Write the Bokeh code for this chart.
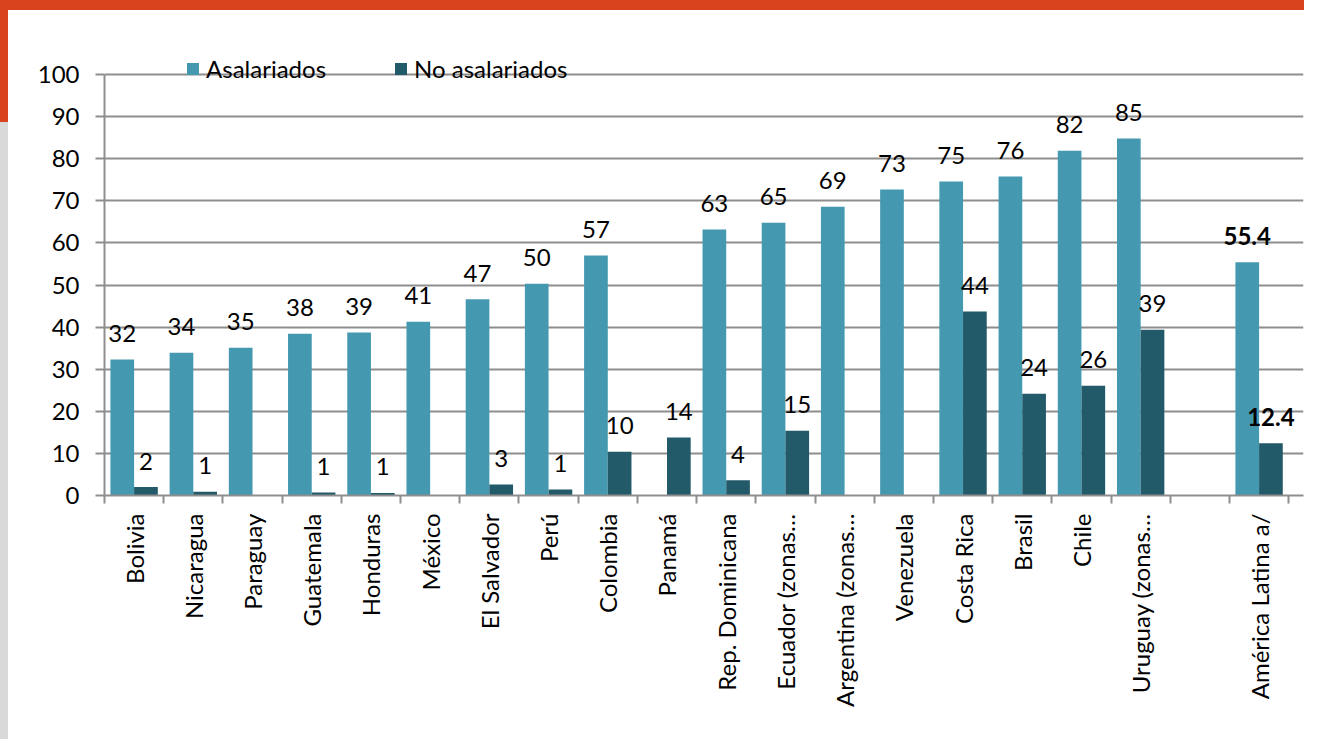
from bokeh.plotting import figure
from bokeh.models import (ColumnDataSource, Range1d, FixedTicker, Legend, LegendItem, Div)
from bokeh.layouts import column, row
from bokeh.core.properties import value
from bokeh.embed import file_html
from bokeh.resources import INLINE
import math

categories = ["Bolivia", "Nicaragua", "Paraguay", "Guatemala", "Honduras", "México",
              "El Salvador", "Perú", "Colombia", "Panamá", "Rep. Dominicana",
              "Ecuador (zonas…", "Argentina (zonas…", "Venezuela", "Costa Rica",
              "Brasil", "Chile", "Uruguay (zonas…", "", "América Latina a/"]
asalariados = [32.3, 33.9, 35.1, 38.4, 38.7, 41.3, 46.6, 50.3, 57.0, None, 63.2, 64.8,
               68.6, 72.7, 74.6, 75.8, 81.9, 84.8, None, 55.4]
no_asalariados = [2.0, 0.9, None, 0.7, 0.6, None, 2.6, 1.4, 10.4, 13.8, 3.6, 15.4,
                  None, None, 43.7, 24.2, 26.1, 39.4, None, 12.4]
aggregate = "América Latina a/"
y_ticks = [0, 10, 20, 30, 40, 50, 60, 70, 80, 90, 100]

C_AS = "#4499b0"
C_NO = "#225a69"
ORANGE = "#d9441f"
STRIP_GRAY = "#d9d9d9"
FONT = "Lato"
FS = "24px"
GRID = "#8e8e8e"

W, H = 1296, 729
n = len(categories)
p = figure(width=W, height=H, output_backend="svg", toolbar_location=None,
           x_range=Range1d(0, n + 0.25), y_range=Range1d(0, 105),
           min_border_left=96, min_border_top=43, min_border_bottom=244,
           min_border_right=1)
p.outline_line_color = None
p.background_fill_color = "white"
p.border_fill_color = "white"


def series(vals, shift):
    xs, tops, labels, xl, yl, xa, ya, la = [], [], [], [], [], [], [], []
    for i, (c, v) in enumerate(zip(categories, vals)):
        if v is None:
            continue
        x = i + 0.5 + shift
        xs.append(x)
        tops.append(v)
        if c == aggregate:
            xa.append(x); ya.append(v); la.append(f"{v:.1f}")
        else:
            xl.append(x); yl.append(v); labels.append(str(int(round(v))))
    return (ColumnDataSource(dict(x=xs, top=tops)),
            ColumnDataSource(dict(x=xl, y=yl, t=labels)),
            ColumnDataSource(dict(x=xa, y=ya, t=la)))


items = []
for vals, shift, color, name in [(asalariados, -0.2, C_AS, "Asalariados"),
                                  (no_asalariados, 0.2, C_NO, "No asalariados")]:
    bars, labs, aggl = series(vals, shift)
    r = p.vbar(x="x", top="top", bottom=0, width=0.4, source=bars,
               fill_color=color, line_color=None)
    items.append(LegendItem(label=name, renderers=[r]))
    p.text(x="x", y="y", text="t", source=labs, text_font=value(FONT),
           text_font_size=FS, text_color="black", text_align="center",
           text_baseline="alphabetic", y_offset=-26)
    p.text(x="x", y="y", text="t", source=aggl, text_font=value(FONT),
           text_font_size=FS, text_color="black", text_align="center",
           text_font_style="bold", text_baseline="alphabetic", y_offset=-26)

# axes
centers = [i + 0.5 for i in range(n)]
bounds_ticks = [i for i in range(n + 1)]
p.xaxis.ticker = FixedTicker(ticks=centers, minor_ticks=bounds_ticks)
p.xaxis.major_label_overrides = {c: lab for c, lab in zip(centers, categories)}
p.xaxis.major_label_orientation = math.pi / 2
p.xaxis.major_tick_out = 0
p.xaxis.major_tick_in = 0
p.xaxis.minor_tick_out = 8
p.xaxis.minor_tick_in = 0
p.xaxis.minor_tick_line_color = GRID
p.xaxis.minor_tick_line_width = 2
p.xaxis.axis_line_color = GRID
p.xaxis.axis_line_width = 2
p.xaxis.major_label_standoff = 10
p.xaxis.major_label_text_font = FONT
p.xaxis.major_label_text_font_size = FS
p.xaxis.major_label_text_color = "black"

p.yaxis.ticker = FixedTicker(ticks=y_ticks)
p.yaxis.bounds = (0, 100)
p.yaxis.major_tick_out = 9
p.yaxis.major_tick_in = 0
p.yaxis.minor_tick_out = 0
p.yaxis.minor_tick_in = 0
p.yaxis.major_tick_line_color = GRID
p.yaxis.major_tick_line_width = 2
p.yaxis.axis_line_color = GRID
p.yaxis.axis_line_width = 2
p.yaxis.major_label_standoff = 16
p.yaxis.major_label_text_font = FONT
p.yaxis.major_label_text_font_size = FS
p.yaxis.major_label_text_color = "black"

p.xgrid.visible = False
p.ygrid.ticker = FixedTicker(ticks=y_ticks)
p.ygrid.grid_line_color = GRID
p.ygrid.grid_line_width = 2

legend = Legend(items=items, orientation="horizontal", location=(81, 412),
                padding=0, margin=0, spacing=67, label_standoff=6,
                glyph_width=15, glyph_height=15, label_height=28,
                background_fill_alpha=0, border_line_alpha=0,
                label_text_font=FONT, label_text_font_size=FS,
                label_text_color="black")
p.add_layout(legend, "center")

# decorative frame: orange top band, orange/gray left strip
top_band = Div(text="", width=W + 8, height=10, margin=0,
               styles={"background-color": ORANGE})
strip_top = Div(text="", width=8, height=112, margin=0,
                styles={"background-color": ORANGE})
strip_bot = Div(text="", width=8, height=H - 112, margin=0,
                styles={"background-color": STRIP_GRAY})
layout = column(top_band, row(column(strip_top, strip_bot, spacing=0), p, spacing=0),
                spacing=0)

open("out.html", "w").write(file_html(layout, INLINE))
